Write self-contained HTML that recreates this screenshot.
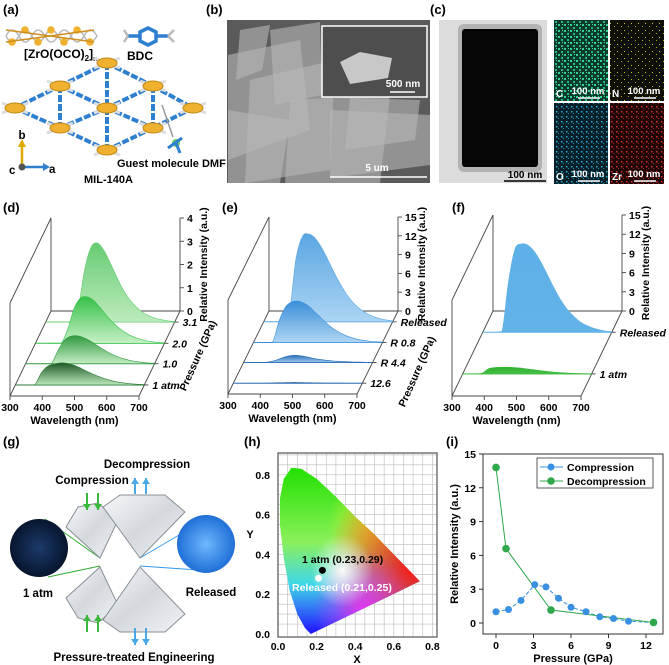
<!DOCTYPE html>
<html><head><meta charset="utf-8"><style>
html,body{margin:0;padding:0;background:#fff;}
svg{display:block;font-family:"Liberation Sans",Arial,sans-serif;}
text{font-weight:bold;}
</style></head>
<body>
<svg id="fig" width="669" height="665" viewBox="0 0 669 665" xmlns="http://www.w3.org/2000/svg">
<defs>
<radialGradient id="darkc" cx="0.5" cy="0.5" r="0.5"><stop offset="0" stop-color="#1c3a6a"/><stop offset="1" stop-color="#07152e"/></radialGradient>
<radialGradient id="bluec" cx="0.5" cy="0.5" r="0.5"><stop offset="0" stop-color="#6fb7ff"/><stop offset="1" stop-color="#1f6fd6"/></radialGradient>
<linearGradient id="dia" x1="0" y1="0" x2="1" y2="1"><stop offset="0" stop-color="#f6f8fa"/><stop offset="0.5" stop-color="#d4d8dd"/><stop offset="1" stop-color="#f0f2f4"/></linearGradient>
<linearGradient id="cieBase" x1="0" y1="0" x2="0" y2="1"><stop offset="0" stop-color="#22e000"/><stop offset="0.45" stop-color="#8af05a"/><stop offset="0.7" stop-color="#40d8e8"/><stop offset="1" stop-color="#2010ff"/></linearGradient>
<radialGradient id="cieRed" cx="0.95" cy="0.6" r="0.6"><stop offset="0" stop-color="#ff1010" stop-opacity="1"/><stop offset="1" stop-color="#ff1010" stop-opacity="0"/></radialGradient>
<radialGradient id="cieMag" cx="0.6" cy="0.85" r="0.35"><stop offset="0" stop-color="#ff30ff" stop-opacity="0.8"/><stop offset="1" stop-color="#ff30ff" stop-opacity="0"/></radialGradient>
<radialGradient id="cieYel" cx="0.65" cy="0.35" r="0.3"><stop offset="0" stop-color="#f5f030" stop-opacity="0.8"/><stop offset="1" stop-color="#f5f030" stop-opacity="0"/></radialGradient>
<radialGradient id="cieWhite" cx="0.45" cy="0.62" r="0.22"><stop offset="0" stop-color="#fff" stop-opacity="0.95"/><stop offset="1" stop-color="#fff" stop-opacity="0"/></radialGradient>
<pattern id="pC" width="6" height="6" patternUnits="userSpaceOnUse"><rect width="6" height="6" fill="#0b3a2c"/><rect x="0" y="0" width="2" height="2" fill="#2fd39a"/><rect x="3" y="3" width="2" height="2" fill="#22b884"/><rect x="4" y="0" width="1" height="1" fill="#3fe0a8"/></pattern>
<pattern id="pN" width="7" height="7" patternUnits="userSpaceOnUse"><rect width="7" height="7" fill="#101008"/><rect x="1" y="2" width="1" height="1" fill="#c8c830"/><rect x="5" y="5" width="1" height="1" fill="#a8a820"/></pattern>
<pattern id="pO" width="5" height="5" patternUnits="userSpaceOnUse"><rect width="5" height="5" fill="#06202a"/><rect x="1" y="1" width="1.5" height="1.5" fill="#2aa8d0"/><rect x="3" y="3" width="1" height="1" fill="#1d88b0"/></pattern>
<pattern id="pZ" width="5" height="5" patternUnits="userSpaceOnUse"><rect width="5" height="5" fill="#200606"/><rect x="1" y="1" width="1.5" height="1.5" fill="#d03030"/><rect x="3" y="3" width="1" height="1" fill="#a82020"/></pattern>
<clipPath id="cieClip"><path id="ciePathClip" d=""/></clipPath>
</defs>
<text x="24" y="58" font-size="12">[ZrO(OCO)<tspan font-size="8" dy="3">2</tspan><tspan dy="-3">]</tspan><tspan font-size="7" dy="3">n</tspan></text>
</svg>
<script>
// ---------- data ----------
const WL = [340,360,380,400,420,440,460,480,500,520,540,560,580,600,620,640,660,680,700];
const dLabels = ["1 atm","1.0","2.0","3.1"];
const d_1atm = [0,0,0.5,0.8,0.9,0.95,0.93,0.86,0.74,0.6,0.47,0.36,0.26,0.18,0.12,0.08,0.05,0.03,0.02];
const d_1p0 = [0,0,0,0.55,1.0,1.18,1.2,1.12,0.98,0.8,0.62,0.46,0.33,0.23,0.15,0.1,0.06,0.03,0.02];
const d_2p0 = [0,0,0,0.6,1.5,1.95,2.0,1.85,1.55,1.2,0.9,0.65,0.45,0.3,0.2,0.12,0.07,0.04,0.02];
const d_3p1 = [0,0,0,0.5,2.2,3.2,3.4,3.1,2.55,1.95,1.4,0.98,0.66,0.43,0.27,0.17,0.1,0.05,0.03];
const eLabels = ["12.6","R 4.4","R 0.8","Released"];
const e_12p6 = [0,0,0,0.02,0.05,0.08,0.1,0.12,0.12,0.1,0.08,0.06,0.04,0.03,0.02,0.01,0,0,0];
const e_R4p4 = [0,0,0.1,0.35,0.75,1.05,1.15,1.05,0.85,0.62,0.45,0.33,0.24,0.17,0.12,0.08,0.05,0.03,0.02];
const e_R0p8 = [0,0.1,3.5,5.7,6.5,6.6,6.2,5.4,4.4,3.4,2.5,1.8,1.25,0.85,0.55,0.35,0.22,0.13,0.07];
const e_Rel = [0,0,1.5,10,13.6,14,13.3,11.8,9.8,7.7,5.8,4.2,2.9,2,1.3,0.85,0.5,0.3,0.15];
const fLabels = ["1 atm","Released"];
const f_1atm = [0,0.1,0.8,1.0,1.05,1.05,1.0,0.9,0.78,0.65,0.52,0.4,0.3,0.22,0.15,0.1,0.06,0.03,0.02];
const f_Rel = [0,0.2,8,13,13.8,13.6,12.6,11,9,7,5.2,3.7,2.6,1.7,1.1,0.7,0.4,0.2,0.1];
const wlTicks = [300,400,500,600,700];
const dYTicks = [0,1,2,3,4];
const eYTicks = [0,3,6,9,12,15];
// panel i
const compP = [0,1,2,3.1,4,5,6,7.2,8.3,9.4,10.6,12.6];
const compI = [1,1.2,2,3.4,3.2,2.2,1.4,1.0,0.55,0.4,0.15,0.05];
const decP = [0,0.8,4.4,12.6];
const decI = [13.8,6.6,1.15,0.05];
const iXTicks = [0,3,6,9,12];
const iYTicks = [0,3,6,9,12,15];
// panel h
const cieX = [0.17,0.14,0.1,0.06,0.03,0.01,0.01,0.03,0.07,0.12,0.2,0.3,0.4,0.5,0.6,0.735];
const cieY = [0.0,0.03,0.1,0.22,0.38,0.55,0.68,0.78,0.835,0.83,0.78,0.69,0.59,0.5,0.4,0.265];
const hTicks = [0.0,0.2,0.4,0.6,0.8];
const pt1atm = [0.23,0.32];
const ptRel = [0.21,0.28];

// ---------- helpers ----------
const NS='http://www.w3.org/2000/svg';
const svg=document.getElementById('fig');
const defs=svg.querySelector('defs');
function mk(tag,attrs,parent){const e=document.createElementNS(NS,tag);for(const k in attrs)e.setAttribute(k,attrs[k]);(parent||svg).appendChild(e);return e;}
function txt(s,x,y,attrs,parent){const t=mk('text',Object.assign({x:x,y:y},attrs||{}),parent);t.textContent=s;return t;}
function smooth(pts,base){let d='M'+pts[0][0]+','+pts[0][1];for(let i=0;i<pts.length-1;i++){const p0=pts[i-1]||pts[i],p1=pts[i],p2=pts[i+1],p3=pts[i+2]||p2;let c1=[p1[0]+(p2[0]-p0[0])/6,p1[1]+(p2[1]-p0[1])/6],c2=[p2[0]-(p3[0]-p1[0])/6,p2[1]-(p3[1]-p1[1])/6];c1[1]=Math.min(c1[1],base);c2[1]=Math.min(c2[1],base);d+=' C'+c1[0].toFixed(1)+','+c1[1].toFixed(1)+' '+c2[0].toFixed(1)+','+c2[1].toFixed(1)+' '+p2[0].toFixed(1)+','+p2[1].toFixed(1);}return d;}
let gid=0;
function grad(c1,c2){const id='g'+(gid++);const lg=mk('linearGradient',{id:id,x1:0,y1:0,x2:0,y2:1},defs);mk('stop',{offset:0,'stop-color':c1},lg);mk('stop',{offset:1,'stop-color':c2},lg);return 'url(#'+id+')';}
function line(x1,y1,x2,y2,attrs,parent){return mk('line',Object.assign({x1:x1,y1:y1,x2:x2,y2:y2,stroke:'#333','stroke-width':1},attrs||{}),parent);}

// ---------- panel labels ----------
[["(a)",3,14],["(b)",206,14],["(c)",430,14],["(d)",3,212],["(e)",222,212],["(f)",452,212],["(g)",3,446],["(h)",244,446],["(i)",446,446]].forEach(p=>{
 const t=txt(p[0],p[1],p[2],{'font-size':13});
 
 
});

// ---------- panel a ----------
const ga=mk('g',{});


for(let i=0;i<7;i++){const x=6+i*13;mk('path',{d:`M${x},36 Q${x+6},24 ${x+13},36 Q${x+6},48 ${x},36`,fill:'none',stroke:'#bbb','stroke-width':1.5},ga);mk('circle',{cx:x+6,cy:i%2?30:42,r:3.8,fill:'#f0b030'},ga);}
line(6,42,94,30,{stroke:'#d09020','stroke-width':1.5},ga);line(6,30,94,42,{stroke:'#d09020','stroke-width':1.5},ga);
mk('polygon',{points:'140,32 148,28 156,32 156,41 148,45 140,41',fill:'none',stroke:'#2f7fd0','stroke-width':3.5},ga);
line(128,36,140,36,{stroke:'#2f7fd0','stroke-width':3.5},ga);line(156,36,168,36,{stroke:'#2f7fd0','stroke-width':3.5},ga);
line(124,30,128,36,{stroke:'#bbb','stroke-width':2.5},ga);line(124,42,128,36,{stroke:'#bbb','stroke-width':2.5},ga);
line(174,30,168,36,{stroke:'#bbb','stroke-width':2.5},ga);line(174,42,168,36,{stroke:'#bbb','stroke-width':2.5},ga);
txt('BDC',140,60,{'font-size':12,'text-anchor':'middle'},ga);
const nodes=[[107,63],[60,86],[153,86],[15,108],[107,108],[193,108],[60,128],[153,128],[107,150]];
const bonds=[[0,1],[0,2],[1,3],[1,4],[2,4],[2,5],[3,6],[4,6],[4,7],[5,7],[6,8],[7,8],[1,6],[2,7],[0,4],[4,8]];
bonds.forEach(b=>{const a=nodes[b[0]],c=nodes[b[1]];line(a[0],a[1],c[0],c[1],{stroke:'#2f7fd0','stroke-width':4,'stroke-dasharray':'7 2'},ga);});
nodes.forEach(n=>{line(n[0]-13,n[1]-5,n[0]+13,n[1]+5,{stroke:'#ddd','stroke-width':3},ga);line(n[0]-13,n[1]+5,n[0]+13,n[1]-5,{stroke:'#ddd','stroke-width':3},ga);mk('ellipse',{cx:n[0],cy:n[1],rx:10,ry:5,fill:'#f0b030',stroke:'#c08818','stroke-width':1},ga);});
line(162,105,173,137,{stroke:'#999','stroke-width':1.5},ga);
mk('circle',{cx:176,cy:143,r:4,fill:'#6c6'},ga);line(168,148,182,138,{stroke:'#2f7fd0','stroke-width':3},ga);line(176,143,180,153,{stroke:'#2f7fd0','stroke-width':3},ga);
line(22,164,22,146,{stroke:'#e0a800','stroke-width':2.5},ga);mk('polygon',{points:'18,147 26,147 22,139',fill:'#e0a800'},ga);
line(24,167,44,167,{stroke:'#2f7fd0','stroke-width':2.5},ga);mk('polygon',{points:'43,163 43,171 50,167',fill:'#2f7fd0'},ga);
mk('circle',{cx:22,cy:167,r:3.5,fill:'#555'},ga);
txt('b',22,139,{'font-size':11.5,'text-anchor':'middle'},ga);txt('c',9,174,{'font-size':11.5},ga);txt('a',49,173,{'font-size':11.5},ga);
txt('Guest molecule DMF',117,167,{'font-size':11},ga);
txt('MIL-140A',84,183,{'font-size':11},ga);

// ---------- panel b ----------
const gb=mk('g',{});


mk('rect',{x:227,y:20,width:203,height:163,fill:'#5a5a5a'},gb);
[[228,55,300,40,310,130,228,160],[250,80,335,60,330,170,245,183],[290,100,390,95,380,183,285,183],[228,110,290,120,280,183,228,183],[330,110,430,115,430,165,330,178],[270,30,320,22,322,95,275,105],[350,98,420,100,415,140,345,150],[240,30,270,25,262,70,236,80]].forEach(p=>mk('polygon',{points:p.join(','),fill:'#b8b8b8','fill-opacity':0.6},gb));
mk('rect',{x:322,y:26,width:105,height:71,fill:'#4e4e4e',stroke:'#fff','stroke-width':1.5},gb);
mk('polygon',{points:'340,62 360,52 392,58 388,78 350,84',fill:'#c8c8c8'},gb);
txt('500 nm',403,87,{'font-size':10,fill:'#fff','text-anchor':'middle'},gb);line(390,92,415,92,{stroke:'#fff','stroke-width':1.5},gb);
txt('5 um',377,171,{'font-size':10,fill:'#fff','text-anchor':'middle'},gb);line(330,177,427,177,{stroke:'#fff','stroke-width':1.5},gb);

// ---------- panel c ----------
const gc=mk('g',{});


mk('rect',{x:439,y:20,width:108,height:163,fill:'#dcdcdc'},gc);
mk('rect',{x:458,y:24,width:84,height:148,fill:'#888',rx:6,'fill-opacity':0.5},gc);
mk('rect',{x:462,y:29,width:76,height:138,fill:'#050505',rx:3},gc);
txt('100 nm',525,178,{'font-size':10,'text-anchor':'middle'},gc);line(504,181,546,181,{stroke:'#000','stroke-width':1.5},gc);
[[554,20,'pC','C'],[610,20,'pN','N'],[554,103,'pO','O'],[610,103,'pZ','Zr']].forEach(t=>{
 mk('rect',{x:t[0],y:t[1],width:54,height:81,fill:'url(#'+t[2]+')'},gc);
 txt(t[3],t[0]+2,t[1]+77,{'font-size':10,fill:'#fff'},gc);
 txt('100 nm',t[0]+34,t[1]+74,{'font-size':9.5,fill:'#fff','text-anchor':'middle'},gc);
 line(t[0]+24,t[1]+78,t[0]+46,t[1]+78,{stroke:'#fff','stroke-width':1.5},gc);
});

// ---------- 3D waterfall panels ----------
function panel3D(cfg){
 const g=mk('g',{});
 
 
 const fx=cfg.fx,fy=cfg.fy,W=129,dx=41,dy=cfg.dy,H=cfg.H;
 const st={stroke:'#444','stroke-width':0.9};
 line(fx+dx,fy-dy,fx+dx,fy-dy-H,st,g);
 line(fx+dx,fy-dy,fx+dx+W,fy-dy,st,g);
 line(fx+dx+W,fy-dy,fx+dx+W,fy-dy-H,st,g);
 line(fx,fy,fx,fy-H,st,g);
 line(fx,fy-H,fx+dx,fy-dy-H,st,g);
 line(fx,fy,fx+dx,fy-dy,st,g);
 line(fx,fy,fx+W,fy,st,g);
 line(fx+W,fy,fx+W+dx,fy-dy,st,g);
 const yv=v=>fy-dy-v*H/cfg.ymax;
 cfg.yticks.forEach(v=>{line(fx+dx+W,yv(v),fx+dx+W+4,yv(v),st,g);const t=txt(String(v),fx+dx+W+7,yv(v)+4,{'font-size':10.5},g);});
 wlTicks.forEach(w=>{const x=fx+(w-300)/400*W;line(x,fy,x,fy+4,st,g);const t=txt(String(w),x,fy+15,{'font-size':10.5,'text-anchor':'middle'},g);});
 const xl=txt('Wavelength (nm)',fx+W/2,fy+28,{'font-size':11,'text-anchor':'middle'},g);
 
 const yl=txt('Relative Intensity (a.u.)',0,0,{'font-size':10.5,'text-anchor':'middle',transform:`translate(${fx+dx+W+cfg.ylx},${fy-dy-H/2}) rotate(-90)`},g);
 
 if(cfg.plabel){const pl=txt('Pressure (GPa)',0,0,{'font-size':10.5,'text-anchor':'middle',transform:`translate(${cfg.plabel[0]},${cfg.plabel[1]}) rotate(-66)`},g);}
 const order=cfg.slices.map((s,i)=>i).sort((a,b)=>cfg.slices[b].f-cfg.slices[a].f);
 order.forEach(i=>{
  const s=cfg.slices[i];const bx=fx+s.f*dx,by=fy-s.f*dy;
  const xs=w=>bx+(w-300)/400*W, ys=v=>by-v*H/cfg.ymax;
  line(bx,by,bx+W,by,{stroke:s.line,'stroke-width':1},g);
  const pts=WL.map((w,k)=>[xs(w),ys(s.vals[k])]);
  const p=mk('path',{d:smooth(pts,by)+` L${xs(700)},${by} L${xs(WL[0])},${by} Z`,fill:grad(s.c1,s.c2),stroke:s.line,'stroke-width':0.6},g);
  
  
  line(fx+W+s.f*dx,by,fx+W+s.f*dx+4,by,st,g);
  const lt=txt(s.label,fx+W+s.f*dx+8,by+4,{'font-size':10.5,'font-style':'italic'},g);
  
 });
}
panel3D({name:'panel-d-spectra',fx:10,fy:396,dy:85,H:93,ymax:4,yticks:dYTicks,ylx:27,plabel:[201,357],slices:[
 {f:0.13,vals:d_1atm,label:dLabels[0],c1:'#1f5a28',c2:'#b8e6b8',line:'#2a7a34'},
 {f:0.38,vals:d_1p0,label:dLabels[1],c1:'#2f9a3f',c2:'#c4ecc4',line:'#2f9a3f'},
 {f:0.62,vals:d_2p0,label:dLabels[2],c1:'#36c048',c2:'#c6f0c6',line:'#36c048'},
 {f:0.87,vals:d_3p1,label:dLabels[3],c1:'#66cc72',c2:'#bdebbd',line:'#66cc72'}]});
panel3D({name:'panel-e-spectra',fx:228,fy:394,dy:83,H:94,ymax:15,yticks:eYTicks,ylx:27,plabel:[420,373],slices:[
 {f:0.13,vals:e_12p6,label:eLabels[0],c1:'#1d5a9c',c2:'#1d5a9c',line:'#2a6ab0'},
 {f:0.38,vals:e_R4p4,label:eLabels[1],c1:'#2c6fb8',c2:'#9cc8ee',line:'#2c6fb8'},
 {f:0.62,vals:e_R0p8,label:eLabels[2],c1:'#3a8ed8',c2:'#b0d6f4',line:'#3a8ed8'},
 {f:0.87,vals:e_Rel,label:eLabels[3],c1:'#5aa6e2',c2:'#acd5f4',line:'#5aa6e2'}]});
panel3D({name:'panel-f-spectra',fx:452,fy:396,dy:85,H:96,ymax:15,yticks:eYTicks,ylx:27,plabel:null,slices:[
 {f:0.26,vals:f_1atm,label:fLabels[0],c1:'#30b030',c2:'#48c048',line:'#38b838'},
 {f:0.75,vals:f_Rel,label:fLabels[1],c1:'#5eb0e8',c2:'#62b2e8',line:'#5eb0e8'}]});

// ---------- panel g ----------
const gg=mk('g',{});


line(45,519,100,558,{stroke:'#3a3','stroke-width':1},gg);line(48,577,100,566,{stroke:'#3a3','stroke-width':1},gg);
line(196,525,140,558,{stroke:'#39e','stroke-width':1},gg);line(198,570,140,566,{stroke:'#39e','stroke-width':1},gg);
[['66,527 78,507 98,503 118,520 100,558'],['103,507 120,495 165,495 185,512 140,558'],['66,598 78,618 98,623 118,605 100,567'],['103,620 120,632 165,632 185,614 140,567']].forEach(p=>mk('polygon',{points:p[0],fill:'url(#dia)',stroke:'#8a9096','stroke-width':1},gg));
const c1=mk('circle',{cx:39,cy:548,r:29,fill:'url(#darkc)'},gg);

const c2=mk('circle',{cx:206,cy:544,r:29,fill:'url(#bluec)'},gg);

function arrow(x,y1,y2,col){line(x,y1,x,y2,{stroke:col,'stroke-width':2},gg);const s=y2>y1?1:-1;mk('polygon',{points:`${x-4},${y2-s*6} ${x+4},${y2-s*6} ${x},${y2}`,fill:col},gg);}
arrow(87,493,510,'#3cb83c');arrow(98,493,510,'#3cb83c');
arrow(135,494,478,'#4aa8e8');arrow(146,494,478,'#4aa8e8');
arrow(87,632,615,'#3cb83c');arrow(98,632,615,'#3cb83c');
arrow(135,628,645,'#4aa8e8');arrow(146,628,645,'#4aa8e8');
txt('Decompression',147,468,{'font-size':11.5,'text-anchor':'middle'},gg);
txt('Compression',92,484,{'font-size':11.5,'text-anchor':'middle'},gg);
txt('1 atm',38,597,{'font-size':11.5,'text-anchor':'middle'},gg);
txt('Released',211,596,{'font-size':11.5,'text-anchor':'middle'},gg);
txt('Pressure-treated Engineering',134,661,{'font-size':11.5,'text-anchor':'middle'},gg);

// ---------- panel h ----------
const gh=mk('g',{});


const hx=v=>278+v/0.1*19.3, hy=v=>634-v/0.1*19.9;
for(let v=0.05;v<0.82;v+=0.05)line(hx(v),453,hx(v),637,{stroke:'#bbb','stroke-width':0.6},gh);
for(let v=0.05;v<0.92;v+=0.05)line(278,hy(v),437,hy(v),{stroke:'#bbb','stroke-width':0.6},gh);
let cd='M'+cieX.map((x,i)=>hx(x).toFixed(1)+','+hy(cieY[i]).toFixed(1)).join(' L')+' Z';
document.getElementById('ciePathClip').setAttribute('d',cd);
const cg=mk('g',{'clip-path':'url(#cieClip)'},gh);

['url(#cieBase)','url(#cieYel)','url(#cieRed)','url(#cieMag)','url(#cieWhite)'].forEach(f=>mk('rect',{x:hx(0),y:hy(0.84),width:hx(0.74)-hx(0),height:hy(0)-hy(0.84),fill:f},cg));
mk('rect',{x:278,y:453,width:159,height:184,fill:'none',stroke:'#555','stroke-width':1.2},gh);
hTicks.forEach(v=>{txt(v.toFixed(1),270,hy(v)+4,{'font-size':10.5,'text-anchor':'end'},gh);txt(v.toFixed(1),hx(v),650,{'font-size':10.5,'text-anchor':'middle'},gh);});
txt('X',357,663,{'font-size':11,'text-anchor':'middle'},gh);
txt('Y',250,538,{'font-size':11,'text-anchor':'middle'},gh);
const p1=mk('circle',{cx:hx(pt1atm[0]),cy:hy(pt1atm[1]),r:3.5,fill:'#000'},gh);

const p2=mk('circle',{cx:hx(ptRel[0]),cy:hy(ptRel[1]),r:3.5,fill:'#fff'},gh);

txt('1 atm (0.23,0.29)',302,563,{'font-size':10.5},gh);
txt('Released (0.21,0.25)',292,591,{'font-size':10.5,fill:'#fff'},gh);

// ---------- panel i ----------
const gi=mk('g',{});


const ix=v=>496+v*12.5, iy=v=>623-v*11.27;
mk('rect',{x:483,y:454,width:180,height:180,fill:'none',stroke:'#333','stroke-width':1},gi);
iYTicks.forEach(v=>{line(479,iy(v),483,iy(v),{},gi);const t=txt(String(v),476,iy(v)+4,{'font-size':10.5,'text-anchor':'end'},gi);});
iXTicks.forEach(v=>{line(ix(v),634,ix(v),638,{},gi);const t=txt(String(v),ix(v),649,{'font-size':10.5,'text-anchor':'middle'},gi);});
const ixt=txt('Pressure (GPa)',573,662,{'font-size':11,'text-anchor':'middle'},gi);

const iyt=txt('Relative Intensity (a.u.)',0,0,{'font-size':11,'text-anchor':'middle',transform:'translate(458,544) rotate(-90)'},gi);

const cl=mk('polyline',{points:compP.map((p,k)=>ix(p)+','+iy(compI[k])).join(' '),fill:'none',stroke:'#3a90e0','stroke-width':1,'stroke-dasharray':'4 2'},gi);

const dl=mk('polyline',{points:decP.map((p,k)=>ix(p)+','+iy(decI[k])).join(' '),fill:'none',stroke:'#2ea84a','stroke-width':1},gi);

compP.forEach((p,k)=>{const c=mk('circle',{cx:ix(p),cy:iy(compI[k]),r:3.5,fill:'#3a90e0'},gi);});
decP.forEach((p,k)=>{const c=mk('circle',{cx:ix(p),cy:iy(decI[k]),r:3.8,fill:'#2ea84a'},gi);});
const lg=mk('g',{},gi);

mk('rect',{x:537,y:458,width:116,height:30,fill:'#fff',stroke:'#333','stroke-width':0.8},lg);
line(540,467,563,467,{stroke:'#3a90e0'},lg);mk('circle',{cx:551,cy:467,r:3.5,fill:'#3a90e0'},lg);
line(540,481,563,481,{stroke:'#2ea84a'},lg);mk('circle',{cx:551,cy:481,r:3.8,fill:'#2ea84a'},lg);
const le1=txt('Compression',567,471,{'font-size':10.5},lg);
const le2=txt('Decompression',567,485,{'font-size':10.5},lg);
</script>
</body></html>
